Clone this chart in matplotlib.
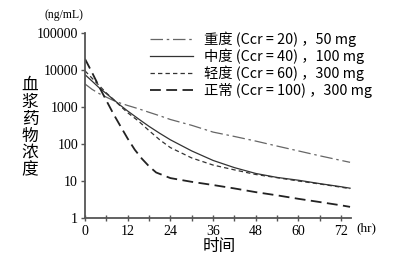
import matplotlib
matplotlib.use("Agg")
import matplotlib.pyplot as plt
from matplotlib.ticker import FixedLocator, NullFormatter

# ---- data ----
t_severe = [0, 2, 4, 6, 8, 10, 12, 15, 18, 21, 24, 30, 36, 42, 48, 54, 60, 66, 72, 74.5]
c_severe = [4200, 3000, 2300, 1850, 1500, 1270, 1100, 900, 720, 580, 460, 320, 210, 160, 120, 88, 65, 48, 36, 32]

t_moderate = [0, 2, 4, 6, 8, 10, 12, 15, 18, 21, 24, 30, 36, 42, 48, 54, 60, 66, 72, 74.5]
c_moderate = [7500, 5000, 3300, 2300, 1600, 1100, 780, 480, 300, 195, 130, 65, 36, 23, 16, 12.5, 10.5, 8.5, 7, 6.4]

t_mild = [0, 2, 4, 6, 8, 10, 12, 15, 18, 21, 24, 30, 36, 42, 48, 54, 60, 66, 72, 74.5]
c_mild = [9500, 6000, 3800, 2400, 1600, 1050, 700, 420, 230, 130, 80, 42, 27, 20, 15, 12.3, 10, 8.3, 6.8, 6.2]

t_normal = [0, 2, 4, 6, 8, 10, 12, 14, 16, 18, 20, 24, 30, 36, 42, 48, 54, 60, 66, 72, 74.5]
c_normal = [20000, 8500, 3500, 1500, 650, 300, 140, 70, 40, 25, 17, 12, 9.5, 7.8, 6.3, 5, 4.1, 3.3, 2.7, 2.2, 2.0]

labels = ["重度 (Ccr = 20) ，50 mg", "中度 (Ccr = 40) ，100 mg",
          "轻度 (Ccr = 60) ，300 mg", "正常 (Ccr = 100) ，300 mg"]
x_ticks = [0, 12, 24, 36, 48, 60, 72]
y_ticks = [1, 10, 100, 1000, 10000, 100000]
y_ticklabels = ["1", "10", "100", "1000", "10000", "100000"]

cjk = ["Noto Sans CJK SC", "DejaVu Sans"]
serif = ["Liberation Serif", "DejaVu Serif"]

fig = plt.figure(figsize=(3.99, 2.58), dpi=100)
ax = fig.add_axes([0.213, 0.155, 0.667, 0.717])

ax.plot(t_severe, c_severe, color="#666666", lw=0.9, dashes=(10, 3, 2, 3))
ax.plot(t_moderate, c_moderate, color="#333333", lw=0.9, linestyle="-")
ax.plot(t_mild, c_mild, color="#333333", lw=0.9, dashes=(3.5, 2.5))
ax.plot(t_normal, c_normal, color="#222222", lw=1.3, dashes=(6, 3))

ax.set_yscale("log")
ax.set_ylim(1, 100000)
ax.set_xlim(0, 74.8)

ax.yaxis.set_major_locator(FixedLocator(y_ticks))
ax.set_yticklabels(y_ticklabels, fontfamily=serif, fontsize=10)
ax.yaxis.set_minor_locator(FixedLocator([]))
ax.xaxis.set_major_locator(FixedLocator(x_ticks))
ax.xaxis.set_minor_locator(FixedLocator([6, 18, 30, 42, 54, 66]))
ax.xaxis.set_minor_formatter(NullFormatter())
ax.set_xticklabels([str(v) for v in x_ticks], fontfamily=serif, fontsize=10)

for s in ["top", "right"]:
    ax.spines[s].set_visible(False)
for s in ["left", "bottom"]:
    ax.spines[s].set_color("#555555")
    ax.spines[s].set_linewidth(1.3)
ax.tick_params(axis="y", which="major", direction="out", length=3, width=1, color="#555555", pad=2)
ax.tick_params(axis="x", which="both", direction="inout", length=4, width=1, color="#555555", pad=3)

fig.text(0.112, 0.94, "(ng/mL)", fontfamily=serif, fontsize=8.5, ha="left", va="center")
fig.text(0.893, 0.115, "(hr)", fontfamily=serif, fontsize=9.5, ha="left", va="center")
fig.text(0.075, 0.505, "血\n浆\n药\n物\n浓\n度", fontfamily=cjk, fontsize=12,
         ha="center", va="center", linespacing=1.0)
fig.text(0.55, 0.045, "时间", fontfamily=cjk, fontsize=12, ha="center", va="center")

leg = ax.legend(ax.get_lines(), labels, loc="upper left", bbox_to_anchor=(0.376, 0.878),
                bbox_transform=fig.transFigure, frameon=False,
                prop={"family": cjk, "size": 10.3}, handlelength=3.0, handletextpad=0.75,
                labelspacing=0.12, borderpad=0, borderaxespad=0)

fig.savefig("out.png", dpi=100)
